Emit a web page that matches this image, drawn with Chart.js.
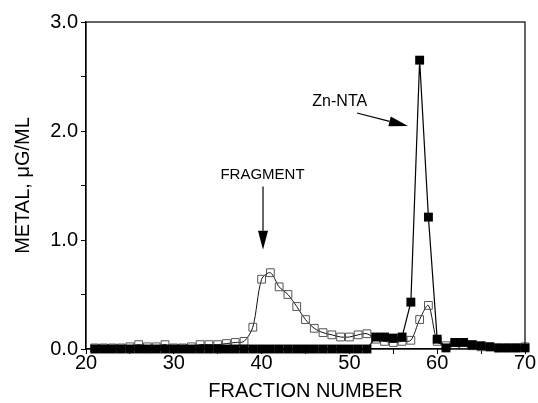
<!DOCTYPE html>
<html>
<head>
<meta charset="utf-8">
<script src="https://cdn.jsdelivr.net/npm/chart.js@4"></script>
<style>
  html, body { margin: 0; padding: 0; background: #fff; }
  #wrap { width: 538px; height: 403px; }
</style>
</head>
<body>
<div id="wrap"><canvas id="chart" width="538" height="403"></canvas></div>
<script>
// fraction numbers collected off the column
const fractions = [21, 22, 23, 24, 25, 26, 27, 28, 29, 30,
                   31, 32, 33, 34, 35, 36, 37, 38, 39, 40,
                   41, 42, 43, 44, 45, 46, 47, 48, 49, 50,
                   51, 52, 53, 54, 55, 56, 57, 58, 59, 60,
                   61, 62, 63, 64, 65, 66, 67, 68, 69, 70];

// open squares (protein fragment)
const openMetal = [0.01, 0.01, 0.01, 0.01, 0.02, 0.04, 0.02, 0.02, 0.04, 0.01,
                   0.01, 0.02, 0.04, 0.04, 0.04, 0.05, 0.06, 0.07, 0.20, 0.64,
                   0.70, 0.57, 0.50, 0.39, 0.27, 0.19, 0.15, 0.13, 0.11, 0.11,
                   0.13, 0.14, 0.09, 0.07, 0.06, 0.07, 0.08, 0.27, 0.40, 0.07,
                   0.03, 0.04, 0.04, 0.03, 0.02, 0.02, 0.01, 0.01, 0.01, 0.02];

// filled squares (Zn-NTA)
const filledMetal = [0.00, 0.00, 0.00, 0.00, 0.00, 0.00, 0.00, 0.00, 0.00, 0.00,
                     0.00, 0.00, 0.00, 0.00, 0.00, 0.00, 0.00, 0.00, 0.00, 0.00,
                     0.00, 0.00, 0.00, 0.00, 0.00, 0.00, 0.00, 0.00, 0.00, 0.00,
                     0.00, 0.00, 0.11, 0.11, 0.10, 0.11, 0.43, 2.65, 1.21, 0.09,
                     0.01, 0.06, 0.06, 0.04, 0.03, 0.02, 0.01, 0.01, 0.01, 0.01];

const xTickLabels = [20, 30, 40, 50, 60, 70];
const yTickLabels = [0, 1, 2, 3];

const FONT = "'Liberation Sans', Arial, Helvetica, sans-serif";

function pts(ys) {
    return fractions.map((f, i) => ({x: f, y: ys[i]}));
}

// closes the frame round the plot
const frame = {
    id: 'frame',
    afterDraw(chart) {
        const {ctx, chartArea: a} = chart;
        ctx.save();
        ctx.strokeStyle = '#000';
        ctx.lineWidth = 1.2;
        ctx.strokeRect(a.left, a.top, a.right - a.left, a.bottom - a.top);
        ctx.restore();
    }
};

function arrow(ctx, x1, y1, x2, y2, headLen, headW) {
    const ang = Math.atan2(y2 - y1, x2 - x1);
    const bx = x2 - headLen * Math.cos(ang), by = y2 - headLen * Math.sin(ang);
    ctx.beginPath();
    ctx.moveTo(x1, y1);
    ctx.lineTo(bx, by);
    ctx.stroke();
    ctx.beginPath();
    ctx.moveTo(x2, y2);
    ctx.lineTo(bx + headW / 2 * Math.sin(ang), by - headW / 2 * Math.cos(ang));
    ctx.lineTo(bx - headW / 2 * Math.sin(ang), by + headW / 2 * Math.cos(ang));
    ctx.closePath();
    ctx.fill();
}

const labels = {
    id: 'labels',
    afterDatasetsDraw(chart) {
        const {ctx, scales: {x, y}} = chart;
        ctx.save();
        ctx.fillStyle = '#000';
        ctx.strokeStyle = '#000';
        ctx.lineWidth = 1.2;
        ctx.font = '15px ' + FONT;
        ctx.textAlign = 'center';
        ctx.textBaseline = 'middle';
        ctx.fillText('FRAGMENT', x.getPixelForValue(40.1), y.getPixelForValue(1.60));
        arrow(ctx, x.getPixelForValue(40.16), y.getPixelForValue(1.49),
                   x.getPixelForValue(40.16), y.getPixelForValue(0.91), 19, 10);
        ctx.font = '16px ' + FONT;
        ctx.fillText('Zn-NTA', x.getPixelForValue(48.9), y.getPixelForValue(2.27));
        arrow(ctx, x.getPixelForValue(50.87), y.getPixelForValue(2.165),
                   x.getPixelForValue(56.67), y.getPixelForValue(2.046), 19, 10);
        ctx.restore();
    }
};

new Chart(document.getElementById('chart'), {
    type: 'scatter',
    data: {
        datasets: [{
            label: 'Fragment',
            data: pts(openMetal),
            showLine: true,
            borderColor: '#111',
            borderWidth: 1,
            tension: 0.3,
            pointStyle: 'rect',
            pointRadius: 5.5,
            pointBorderWidth: 1,
            pointBorderColor: '#555',
            pointBackgroundColor: 'rgba(255,255,255,0)',
            clip: false,
            order: 2
        }, {
            label: 'Zn-NTA',
            data: pts(filledMetal),
            showLine: true,
            borderColor: '#000',
            borderWidth: 1.2,
            tension: 0,
            pointStyle: 'rect',
            pointRadius: 6.3,
            pointBorderWidth: 0,
            pointBackgroundColor: '#000',
            clip: false,
            order: 1
        }]
    },
    options: {
        responsive: false,
        animation: false,
        layout: { padding: { top: 22, right: 13, left: 0, bottom: 0 } },
        plugins: { legend: { display: false }, tooltip: { enabled: false } },
        scales: {
            x: {
                type: 'linear',
                min: 20, max: 70,
                afterFit: s => { s.height = 54; },
                border: { display: true, color: '#000', width: 1.2 },
                grid: { drawOnChartArea: false, drawTicks: true, tickLength: 5, color: '#000', tickWidth: 1 },
                ticks: {
                    stepSize: 5,
                    autoSkip: false,
                    maxRotation: 0,
                    padding: -3,
                    color: '#000',
                    font: { family: FONT, size: 20 },
                    callback: v => xTickLabels.includes(v) ? String(v) : ''
                },
                title: {
                    display: true,
                    text: 'FRACTION NUMBER',
                    color: '#000',
                    font: { family: FONT, size: 20 },
                    padding: { top: 0, bottom: 0 }
                }
            },
            y: {
                min: 0, max: 3,
                afterFit: s => { s.width = 86; },
                border: { display: true, color: '#000', width: 1.2 },
                grid: { drawOnChartArea: false, drawTicks: true, tickLength: 5, color: '#000', tickWidth: 1 },
                ticks: {
                    stepSize: 0.5,
                    autoSkip: false,
                    padding: 3,
                    color: '#000',
                    font: { family: FONT, size: 20 },
                    callback: v => yTickLabels.includes(v) ? v.toFixed(1) : ''
                },
                title: {
                    display: true,
                    text: 'METAL, μG/ML',
                    color: '#000',
                    font: { family: FONT, size: 20 },
                    padding: { top: 11, bottom: 0 }
                }
            }
        }
    },
    plugins: [frame, labels]
});
</script>
</body>
</html>
